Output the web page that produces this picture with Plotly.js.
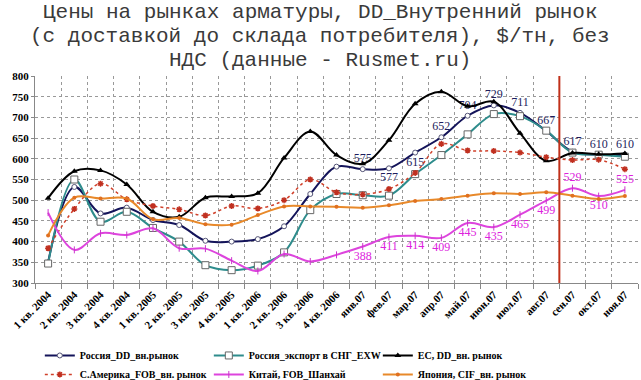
<!DOCTYPE html>
<html><head><meta charset="utf-8">
<script src="https://cdn.plot.ly/plotly-3.0.1.min.js"></script>
<style>html,body{margin:0;padding:0;background:#fff}#chart{width:641px;height:380px}</style>
</head><body><div id="chart"></div>
<script>
const categories = ["1 кв. 2004","2 кв. 2004","3 кв. 2004","4 кв. 2004","1 кв. 2005","2 кв. 2005","3 кв. 2005","4 кв. 2005","1 кв. 2006","2 кв. 2006","3 кв. 2006","4 кв. 2006","янв.07","фев.07","мар.07","апр.07","май.07","июн.07","июл.07","авг.07","сен.07","окт.07","ноя.07"];
const russiaDD     = [350,532,468,482,452,440,402,400,406,437,515,581,575,577,615,652,704,729,711,667,617,610,610];
const russiaExport = [347,550,448,472,433,400,343,331,342,374,476,515,512,511,563,609,659,708,703,668,615,610,605];
const euDD         = [505,570,572,538,472,460,506,509,517,602,666,609,588,645,733,762,727,738,662,595,614,611,613];
const nAmerica     = [384,479,540,502,486,478,463,486,480,500,550,519,514,527,566,636,620,619,615,604,597,598,575];
const china        = [470,380,420,416,432,384,383,354,329,370,352,368,388,411,414,409,445,435,465,499,529,510,525];
const japan        = [415,506,504,504,454,457,442,441,464,485,485,484,482,488,498,503,511,517,515,519,511,503,510];
const seriesNames  = ["Россия_DD_вн.рынок","Россия_экспорт в СНГ_EXW","ЕС, DD_вн. рынок","С.Америка_FOB_вн. рынок","Китай, FOB_Шанхай","Япония, CIF_вн. рынок"];
const russiaLabels = ["","","","","","","","","","","","","575","577","615","652","704","729","711","667","617","610","610"];
const chinaLabels  = ["","","","","","","","","","","","","388","411","414","409","445","435","465","499","529","510","525"];
const markerLineCategory = "авг.07"; // vertical marker drawn after this month

const russiaPos = russiaLabels.map((t,i)=> (i===13||i===14) ? "bottom center" : "top center");
const chinaPos  = chinaLabels.map((t,i)=> (i===20||i===22) ? "top center" : "bottom center");

const serif = "Liberation Serif, Times New Roman, serif";
const common = {type:"scatter", x:categories};

const traces = [
  Object.assign({}, common, {name:seriesNames[0], y:russiaDD, mode:"lines+markers+text",
    text:russiaLabels, textposition:russiaPos, textfont:{family:serif, size:12, color:"#1c1c5c"},
    line:{shape:"spline", smoothing:1, color:"#14145a", width:2},
    marker:{symbol:"circle", size:5, color:"#ffffff", line:{color:"#555577", width:1}}}),
  Object.assign({}, common, {name:seriesNames[1], y:russiaExport, mode:"lines+markers",
    line:{shape:"spline", smoothing:1, color:"#2e8c8c", width:2},
    marker:{symbol:"square", size:7, color:"#ffffff", line:{color:"#666666", width:1}}}),
  Object.assign({}, common, {name:seriesNames[2], y:euDD, mode:"lines+markers",
    line:{shape:"spline", smoothing:1, color:"#000000", width:2},
    marker:{symbol:"triangle-up", size:6, color:"#000000"}}),
  Object.assign({}, common, {name:seriesNames[3], y:nAmerica, mode:"lines+markers",
    line:{shape:"spline", smoothing:1, color:"#d0402a", width:1.5, dash:"dot"},
    marker:{symbol:"asterisk-open", size:5, color:"#c03020", line:{color:"#c03020", width:1.5}}}),
  Object.assign({}, common, {name:seriesNames[4], y:china, mode:"lines+markers+text",
    text:chinaLabels, textposition:chinaPos, textfont:{family:serif, size:12, color:"#dd22dd"},
    line:{shape:"spline", smoothing:1, color:"#dd44dd", width:2},
    marker:{symbol:"line-ns-open", size:5, color:"#cc33cc", line:{color:"#cc33cc", width:1}}}),
  Object.assign({}, common, {name:seriesNames[5], y:japan, mode:"lines+markers",
    line:{shape:"spline", smoothing:1, color:"#e8892a", width:2},
    marker:{symbol:"circle", size:4, color:"#e07020"}})
];

const redX = categories.indexOf(markerLineCategory) + 0.5;
const titleLines = ["Цены на рынках арматуры, DD_Внутренний рынок","(с доставкой до склада потребителя), $/тн, без","НДС (данные - Rusmet.ru)"];
const titleY = [1.309, 1.19, 1.075];

const layout = {
  width:641, height:380,
  margin:{l:35, r:3, t:76, b:97, autoexpand:false},
  paper_bgcolor:"#ffffff", plot_bgcolor:"#ffffff",
  showlegend:true,
  legend:{orientation:"h", x:0.008, y:-0.28, xanchor:"left", yanchor:"top",
    entrywidth:124, entrywidthmode:"pixels", font:{family:serif, size:10, color:"#000", weight:"bold"},
    bgcolor:"rgba(0,0,0,0)", tracegroupgap:0, itemwidth:30},
  xaxis:{type:"category", tickson:"boundaries", ticks:"outside", ticklen:5, tickcolor:"#888",
    showgrid:true, gridcolor:"#999", griddash:"dot", gridwidth:1,
    showline:true, linecolor:"#888", linewidth:1, tickangle:-45,
    tickfont:{family:serif, size:11, color:"#000", weight:"bold"}, range:[-0.5,22.5], fixedrange:true},
  yaxis:{range:[300,800], dtick:50, ticks:"outside", ticklen:3, tickcolor:"#888",
    showgrid:true, gridcolor:"#999", griddash:"dot", gridwidth:1,
    showline:true, linecolor:"#888", linewidth:1, zeroline:false,
    tickfont:{family:serif, size:11, color:"#000", weight:"bold"}},
  shapes:[{type:"line", xref:"x", yref:"paper", x0:redX, x1:redX, y0:0, y1:1,
    line:{color:"#c0301a", width:2}}],
  annotations: titleLines.map((t,i)=>({text:t, xref:"paper", yref:"paper", x:0.473, y:titleY[i],
    xanchor:"center", yanchor:"middle", showarrow:false,
    font:{family:"Liberation Mono, Courier New, monospace", size:21, color:"#3a3a3a"}}))
};

Plotly.newPlot("chart", traces, layout, {displayModeBar:false, staticPlot:true});
</script></body></html>
